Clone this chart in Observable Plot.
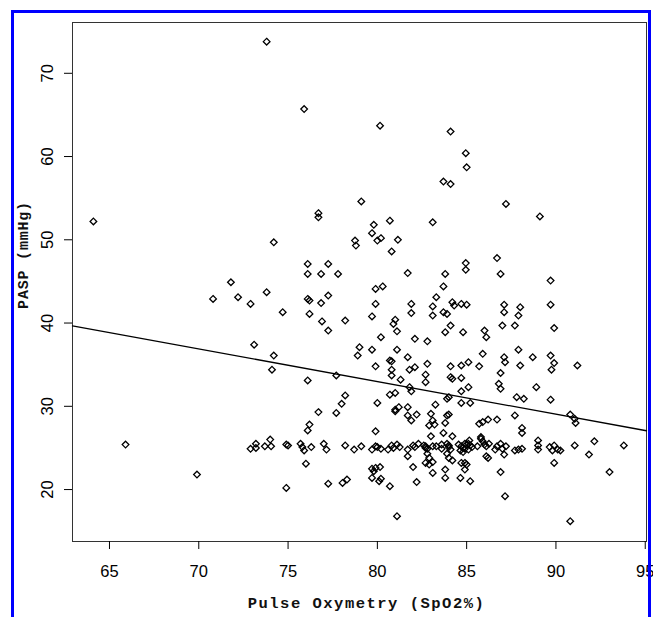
<!DOCTYPE html>
<html>
<head>
<meta charset="utf-8">
<script src="https://cdn.jsdelivr.net/npm/d3@7"></script>
<script src="https://cdn.jsdelivr.net/npm/@observablehq/plot@0.6"></script>
<style>
  html, body { margin: 0; padding: 0; background: #fff; overflow: hidden; }
  #wrap { position: relative; width: 653px; height: 617px; overflow: hidden; background: #fff; }
  #wrap svg { position: absolute; left: 0; top: 0; }
  #border { position: absolute; left: 11px; top: 10px; width: 634px; height: 700px;
            border: 3px solid #0000ff; border-bottom: none; pointer-events: none; }
</style>
</head>
<body>
<div id="wrap"><div id="border"></div></div>
<script>
// Pulse oximetry (SpO2 %) readings
const spo2 = [
  73.8, 75.9, 64.1, 79.1, 76.7, 76.7, 74.2, 78.75, 78.8, 76.1, 77.25, 76.1, 76.85, 77.8,
  71.8, 70.8, 72.2, 72.9, 73.8, 76.1, 76.2, 77.25, 76.85, 74.7, 76.2, 76.9, 78.2, 77.25,
  73.1, 74.2, 74.1, 76.1, 77.7, 79.0, 78.9, 78.2, 78.0, 76.7, 77.7, 76.2, 76.1, 65.9,
  72.9, 73.2, 73.2, 73.7, 74.0, 74.05, 74.9, 75.0, 75.7, 75.8, 75.9, 76.3, 77.0, 77.15,
  78.2, 78.7, 79.1, 76.0, 69.9, 74.9, 77.25, 78.05, 78.3,
  80.15, 84.1, 84.95, 85.0, 83.7, 84.1, 87.2, 89.1, 80.7, 83.1, 79.8, 79.7, 80.2, 80.0,
  81.15, 80.8, 86.7, 84.95, 84.95, 81.7, 83.8, 86.9, 89.7,
  79.9, 80.3, 79.9, 79.7, 81.9, 81.9, 83.1, 83.3, 83.1, 83.7, 83.7, 83.9, 84.2, 84.3,
  84.7, 85.0, 84.1, 83.8, 84.8, 80.9, 81.0, 81.1, 80.2, 82.1, 82.8, 79.7, 81.1, 80.8,
  80.7, 81.7, 82.8, 79.9, 80.8, 80.8, 81.8, 82.1, 81.3, 82.7, 82.7, 84.1, 84.7, 85.1,
  85.7, 85.9, 86.0, 86.1, 87.0, 87.1, 87.1, 87.7, 87.9, 88.0, 89.7, 89.9, 87.9, 87.1,
  87.15, 88.0, 88.7, 89.7, 89.9, 89.75, 91.2, 86.9, 84.1, 84.2, 84.7, 85.1, 84.7, 86.8,
  86.9, 88.9, 89.7, 87.8, 88.2, 80.0, 80.7, 81.0, 81.8, 81.9, 83.9, 84.0, 83.25, 84.7,
  85.2, 81.0, 81.0, 81.2, 81.7, 81.7, 81.9, 82.2, 83.0, 83.1, 82.9, 83.2, 83.9, 84.0,
  83.8, 83.7, 83.0, 84.2, 79.9, 85.7, 85.9, 86.2, 86.7, 87.7, 88.1, 88.1, 90.8, 91.05,
  91.1, 85.8, 85.9,
  79.7, 79.9, 80.0, 80.2, 80.6, 80.8, 80.9, 81.1, 81.25, 81.7, 82.0, 82.1, 82.3, 82.7,
  82.8, 83.1, 82.8, 82.9, 82.7, 82.9, 83.1, 83.3, 83.6, 83.9, 84.0, 84.1, 83.9, 84.0,
  84.2, 83.8, 83.8, 83.1, 82.2, 82.0, 81.7, 80.7, 81.1, 79.7, 79.9, 80.15, 79.8, 79.7,
  80.2, 80.1, 84.55, 84.7, 84.9, 85.0, 85.15, 85.2, 84.9, 85.1, 85.3, 84.65, 84.8, 84.7,
  84.9, 85.0, 84.9, 84.65, 85.2, 85.6, 85.8, 86.0, 86.1, 86.25, 86.6, 86.7, 86.9, 87.0,
  87.2, 87.1, 86.1, 86.2, 86.9, 87.15, 87.7, 87.9, 88.1, 89.0, 89.0, 89.0, 89.65, 89.9,
  90.1, 90.25, 89.8, 89.9, 91.05, 91.85, 92.15, 93.0, 93.8, 90.8,
  82.7, 84.0, 84.8, 85.1, 83.6, 82.6
];
// Pulmonary artery systolic pressure (mmHg), same order
const pasp = [
  73.8, 65.7, 52.2, 54.6, 53.2, 52.7, 49.7, 49.9, 49.3, 47.1, 47.1, 45.9, 45.9, 45.9,
  44.9, 42.9, 43.1, 42.3, 43.7, 42.9, 42.7, 43.3, 42.4, 41.3, 41.1, 40.2, 40.3, 39.1,
  37.4, 36.1, 34.4, 33.1, 33.7, 37.1, 36.1, 31.3, 30.3, 29.3, 29.2, 27.8, 27.1, 25.4,
  24.9, 25.5, 25.0, 25.2, 26.0, 25.2, 25.4, 25.3, 25.5, 25.1, 24.7, 25.1, 25.5, 24.8,
  25.3, 24.8, 25.2, 23.1, 21.8, 20.2, 20.7, 20.8, 21.2,
  63.7, 63.0, 60.4, 58.7, 57.0, 56.7, 54.3, 52.8, 52.3, 52.1, 51.8, 50.8, 50.2, 49.9,
  50.0, 48.6, 47.8, 47.2, 46.4, 46.0, 45.9, 45.9, 45.1,
  44.1, 44.4, 42.3, 40.8, 42.3, 41.2, 42.0, 43.1, 40.9, 44.4, 41.3, 41.1, 42.5, 42.1,
  42.3, 42.2, 39.7, 38.9, 38.9, 39.9, 40.4, 39.0, 38.3, 38.1, 37.8, 36.8, 36.8, 35.4,
  35.5, 35.9, 35.1, 34.8, 34.4, 33.7, 34.4, 34.7, 33.2, 33.8, 32.9, 34.8, 34.9, 35.3,
  34.8, 36.3, 39.1, 38.3, 39.7, 42.2, 41.3, 39.7, 40.9, 41.9, 42.2, 39.4, 36.8, 35.9,
  35.3, 34.9, 35.9, 36.1, 35.2, 34.4, 34.9, 34.0, 33.5, 33.3, 33.4, 32.3, 31.8, 32.7,
  32.1, 32.3, 30.8, 31.1, 30.9, 30.4, 31.4, 31.6, 32.3, 31.8, 30.9, 31.1, 30.2, 30.4,
  30.4, 29.6, 29.4, 29.9, 29.9, 28.9, 28.3, 29.0, 29.1, 28.3, 27.7, 27.8, 28.9, 29.0,
  28.0, 26.8, 26.4, 26.4, 27.0, 27.9, 28.1, 28.4, 28.4, 28.9, 27.4, 26.8, 29.0, 28.5,
  28.0, 26.3, 25.8,
  24.8, 25.2, 25.1, 24.9, 24.8, 25.3, 25.0, 25.4, 25.1, 24.8, 25.3, 25.1, 25.5, 25.2,
  24.9, 25.2, 24.3, 23.8, 23.2, 23.0, 23.3, 25.2, 24.9, 25.5, 25.1, 24.8, 24.3, 23.8,
  23.5, 22.4, 21.4, 22.0, 20.9, 22.7, 24.0, 20.4, 16.8, 22.5, 22.6, 22.7, 22.2, 21.4,
  21.3, 21.0, 25.4, 25.2, 25.5, 25.4, 25.9, 25.3, 24.9, 24.8, 25.1, 24.7, 24.5, 23.2,
  23.2, 23.0, 22.4, 21.4, 21.0, 25.2, 26.1, 25.4, 25.2, 25.5, 24.8, 25.2, 25.5, 24.9,
  25.2, 24.2, 24.0, 23.8, 22.1, 19.2, 24.7, 24.8, 24.9, 25.9, 25.3, 24.8, 25.1, 25.3,
  24.8, 24.7, 24.7, 23.2, 25.3, 24.2, 25.8, 22.1, 25.3, 16.2,
  25.0, 25.3, 25.0, 25.5, 25.4, 25.3
];
const xTicks = [65, 70, 75, 80, 85, 90, 95];
const yTicks = [20, 30, 40, 50, 60, 70];
const xDomain = [62.93, 95.07];
const yDomain = [13.76, 76.1];
// least-squares fit line coefficients
const fitIntercept = 64.33;
const fitSlope = -0.392;
const xTitle = "Pulse Oxymetry (SpO2%)";
const yTitle = "PASP (mmHg)";

const points = spo2.map((x, i) => ({x, y: pasp[i]}));
const fit = xDomain.map(x => ({x, y: fitIntercept + fitSlope * x}));

const chart = Plot.plot({
  width: 653,
  height: 617,
  marginLeft: 72,
  marginRight: 7,
  marginTop: 22,
  marginBottom: 76,
  style: {
    fontFamily: "'Liberation Sans', Arial, sans-serif",
    fontSize: "16.5px",
    color: "#000",
    background: "#fff"
  },
  x: {domain: xDomain},
  y: {domain: yDomain},
  marks: [
    Plot.frame({stroke: "#333", strokeWidth: 1}),
    Plot.axisX(xTicks, {tickSize: 8, tickPadding: 16, label: null, stroke: "#000"}),
    Plot.axisY(yTicks, {tickSize: 8, tickPadding: 12, tickRotate: -90, label: null, stroke: "#000"}),
    Plot.dot(points, {x: "x", y: "y", symbol: "diamond2", r: 3, stroke: "#000", strokeWidth: 1.3, fill: "none"}),
    Plot.line(fit, {x: "x", y: "y", stroke: "#000", strokeWidth: 1.3}),
    Plot.text([xTitle], {frameAnchor: "bottom", dx: 7, dy: 66, lineAnchor: "bottom", textAnchor: "middle",
      fontFamily: "'Liberation Mono', 'Courier New', monospace", fontWeight: "bold", fontSize: 15.5, fill: "#111"}),
    Plot.text([yTitle], {frameAnchor: "left", dx: -45, dy: -27, rotate: -90, lineAnchor: "bottom", textAnchor: "middle",
      fontFamily: "'Liberation Mono', 'Courier New', monospace", fontWeight: "bold", fontSize: 15, fill: "#111"})
  ]
});
d3.select(chart).selectAll("text")
  .filter(function() { return this.textContent === xTitle; })
  .style("letter-spacing", "1.5px");
d3.select(chart).selectAll("text")
  .filter(function() { return this.textContent === yTitle; })
  .style("letter-spacing", "0.8px");
document.getElementById("wrap").insertBefore(chart, document.getElementById("border"));
</script>
</body>
</html>
